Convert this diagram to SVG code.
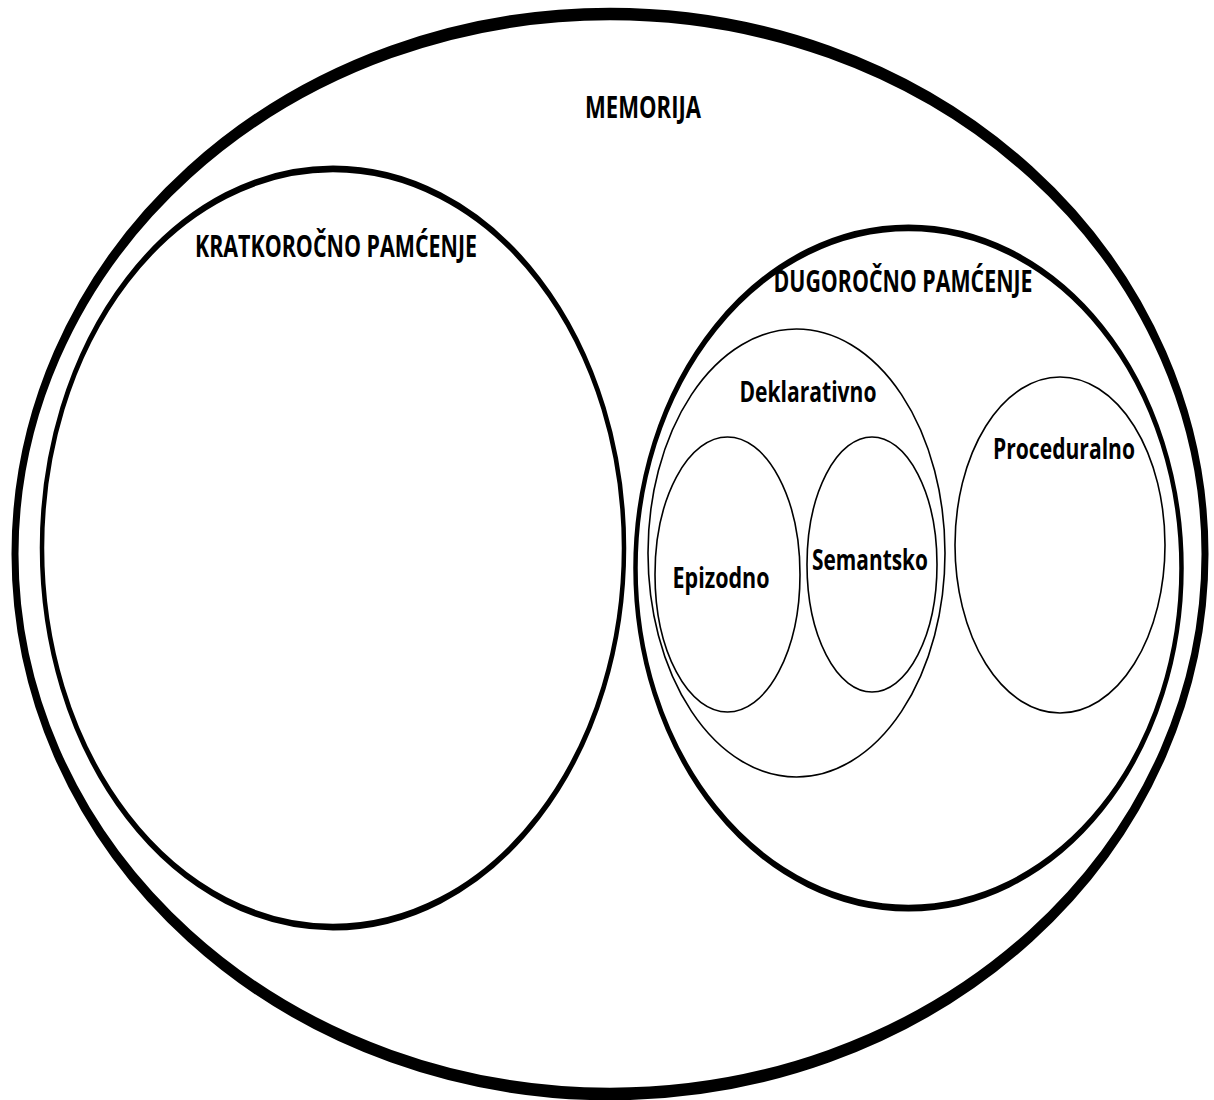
<svg xmlns="http://www.w3.org/2000/svg" width="1214" height="1100" viewBox="0 0 1214 1100">
<style>
.bg{fill:#fff}
.ring{fill:none;stroke:#000}
.thin{fill:none;stroke:#000;stroke-width:1.6}
.lbl{font-family:"Open Sans","Liberation Sans",sans-serif;font-weight:bold;fill:#000;text-anchor:middle}
</style>
<rect class="bg" x="0" y="0" width="1214" height="1100"/>
<g id="memorija">
<ellipse class="ring" transform="translate(610,554) scale(1,1.8)" rx="595" ry="300" stroke-width="7"/>
<text class="lbl" x="643" y="118" font-size="31" textLength="116" lengthAdjust="spacingAndGlyphs">MEMORIJA</text>
</g>
<g id="kratkorocno">
<ellipse class="ring" transform="translate(333,548) scale(1,1.5)" rx="291" ry="252.7" stroke-width="4.5"/>
<text class="lbl" x="336" y="257" font-size="30" textLength="282" lengthAdjust="spacingAndGlyphs">KRATKOROČNO PAMĆENJE</text>
</g>
<g id="dugorocno">
<ellipse class="ring" transform="translate(908.5,568) scale(1,1.5)" rx="273" ry="226.7" stroke-width="4.5"/>
<text class="lbl" x="903" y="292" font-size="30" textLength="259" lengthAdjust="spacingAndGlyphs">DUGOROČNO PAMĆENJE</text>
</g>
<g id="deklarativno">
<ellipse class="thin" cx="796.5" cy="553" rx="148.5" ry="224"/>
<text class="lbl" x="808" y="402" font-size="28" textLength="137" lengthAdjust="spacingAndGlyphs">Deklarativno</text>
</g>
<g id="epizodno">
<ellipse class="thin" cx="727.5" cy="574.5" rx="72.5" ry="137.5"/>
<text class="lbl" x="721" y="588" font-size="29" textLength="97" lengthAdjust="spacingAndGlyphs">Epizodno</text>
</g>
<g id="semantsko">
<ellipse class="thin" cx="872" cy="564.5" rx="65" ry="127.5"/>
<text class="lbl" x="870" y="570" font-size="29" textLength="116" lengthAdjust="spacingAndGlyphs">Semantsko</text>
</g>
<g id="proceduralno">
<ellipse class="thin" cx="1060" cy="545" rx="105" ry="168"/>
<text class="lbl" x="1064" y="459" font-size="29" textLength="142" lengthAdjust="spacingAndGlyphs">Proceduralno</text>
</g>
<g id="connectors"/>
</svg>
